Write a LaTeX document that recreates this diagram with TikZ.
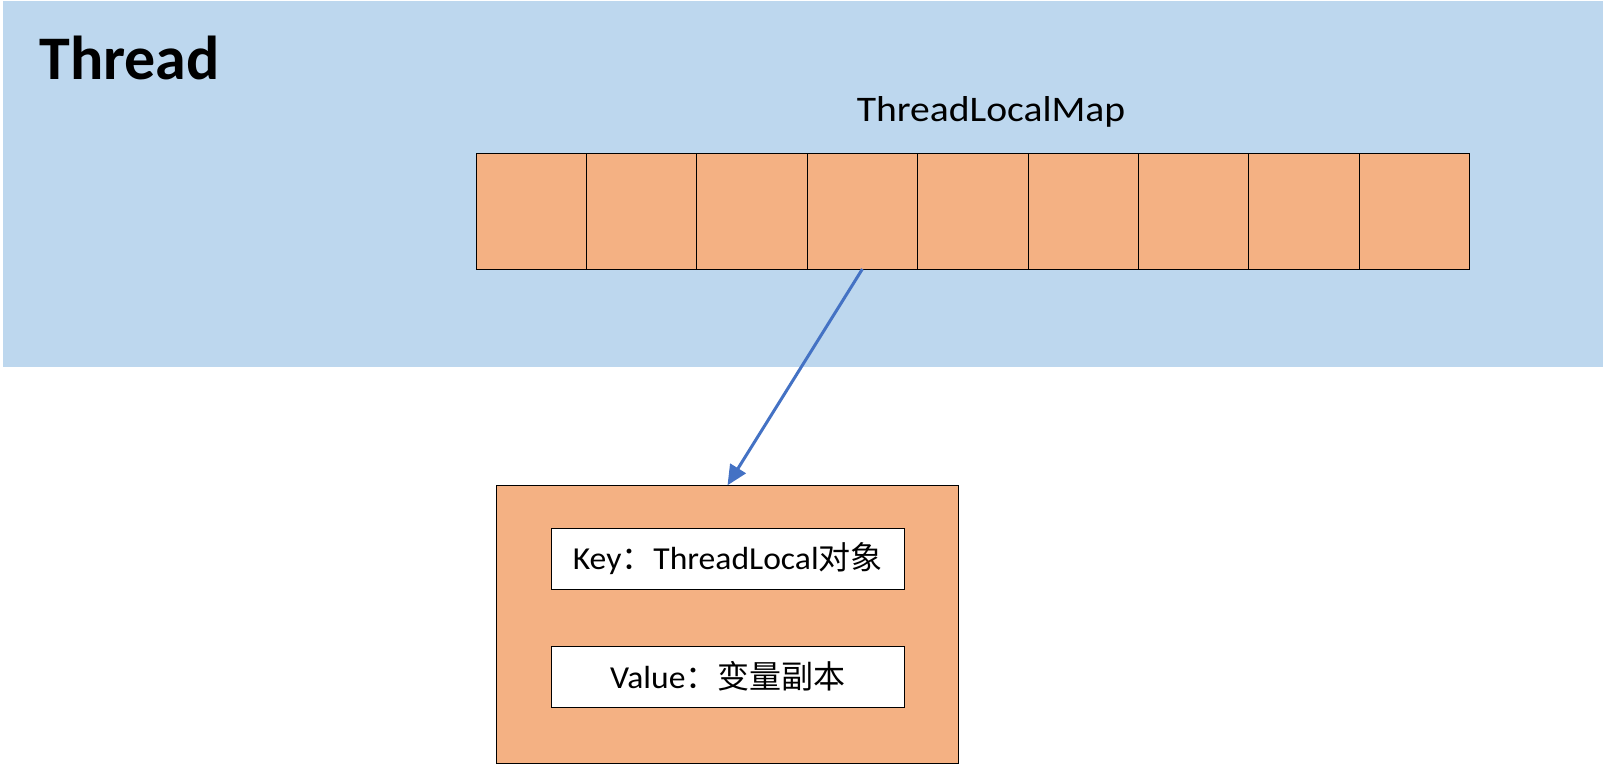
\documentclass[tikz,border=0pt]{standalone}
\usepackage{fontspec}
\setmainfont{Carlito}
\newfontfamily\widefont[FakeStretch=1.1]{Carlito}
\newfontfamily\fieldfont[FakeStretch=1.05]{Carlito}
\newfontfamily\cjk{Noto Sans CJK SC}
\usetikzlibrary{positioning,arrows.meta}
\definecolor{threadblue}{HTML}{BDD7EE}
\definecolor{slotorange}{HTML}{F4B183}
\definecolor{arrowblue}{HTML}{4472C4}
\tikzset{
  slot/.style={draw,fill=slotorange,line width=0.5pt,minimum width=55.2pt,minimum height=57.6pt,inner sep=0pt,outer sep=0pt},
  entrybox/.style={draw,fill=slotorange,line width=0.5pt,minimum width=230.8pt,minimum height=139pt,inner sep=0pt,outer sep=0pt},
  fieldbox/.style={draw,fill=white,line width=0.5pt,minimum width=176.5pt,minimum height=30.5pt,inner sep=0pt,font=\fieldfont\fontsize{16}{16}\selectfont},
}
\begin{document}
\begin{tikzpicture}[x=0.5pt,y=-0.5pt]
  \useasboundingbox (0,0) rectangle (1606,765);
  \node[fill=threadblue,minimum width=800pt,minimum height=183pt,inner sep=0pt] (thread) at (803,184) {};
  \node[anchor=base west,inner sep=0pt,font=\bfseries\fontsize{31}{31}\selectfont] (title) at (39,80) {Thread};
  \node[anchor=base,inner sep=0pt,font=\widefont\fontsize{18}{18}\selectfont] (maplabel) at (991,121) {ThreadLocalMap};

  \node[slot] (c1) at (531.2,211.4) {};
  \node[slot,right=0pt of c1] (c2) {};
  \node[slot,right=0pt of c2] (c3) {};
  \node[slot,right=0pt of c3] (c4) {};
  \node[slot,right=0pt of c4] (c5) {};
  \node[slot,right=0pt of c5] (c6) {};
  \node[slot,right=0pt of c6] (c7) {};
  \node[slot,right=0pt of c7] (c8) {};
  \node[slot,right=0pt of c8] (c9) {};

  \node[entrybox] (entry) at (727.5,624.3) {};
  \node[fieldbox] (key) at (727.8,558.8) {Key{\cjk ：}ThreadLocal{\cjk 对象}};
  \node[fieldbox] (value) at (727.8,676.5) {Value{\cjk ：变量副本}};

  \draw[arrowblue,line width=1.5pt,-{Triangle[length=10pt,width=9pt]}] (c4.south) -- (entry.north);
\end{tikzpicture}
\end{document}
